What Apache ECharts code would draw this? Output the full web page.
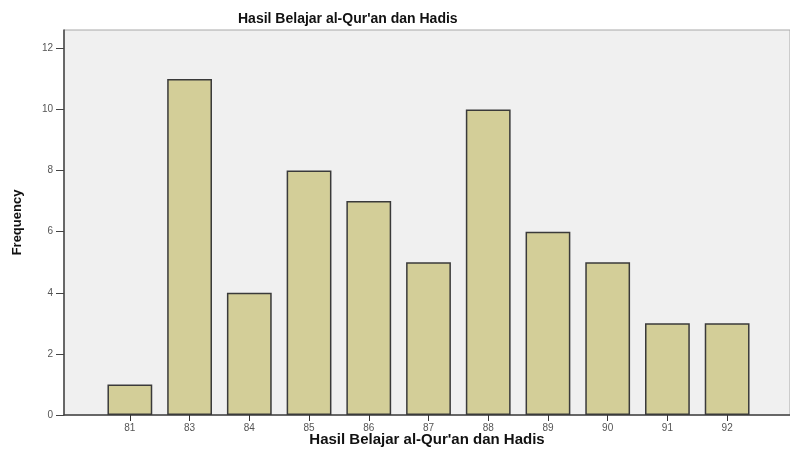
<!DOCTYPE html>
<html>
<head>
<meta charset="utf-8">
<script src="https://cdn.jsdelivr.net/npm/echarts@6/dist/echarts.min.js"></script>
<style>
  html, body { margin: 0; padding: 0; background: #fff; }
  #chart { width: 790px; height: 460px; }
</style>
</head>
<body>
<div id="chart"></div>
<script>
var categories = ['81', '83', '84', '85', '86', '87', '88', '89', '90', '91', '92'];
var frequency = [1, 11, 4, 8, 7, 5, 10, 6, 5, 3, 3];
var yTicks = [0, 2, 4, 6, 8, 10, 12];

var chart = echarts.init(document.getElementById('chart'));
var font = '"Liberation Sans", Arial, sans-serif';

var option = {
    animation: false,
    title: {
        text: "Hasil Belajar al-Qur'an dan Hadis",
        left: 233,
        top: 7,
        textStyle: { fontFamily: font, fontSize: 14, fontWeight: 'bold', color: '#111' }
    },
    grid: [
        // background frame + y axis
        { left: 64, right: 0, top: 30, bottom: 45, show: true,
          backgroundColor: '#f0f0f0', borderColor: '#a8a8a8', borderWidth: 1 },
        // bars
        { left: 100, right: 33, top: 30, bottom: 45 }
    ],
    xAxis: [
        {
            gridIndex: 0, type: 'value', min: 0, max: 1,
            name: "Hasil Belajar al-Qur'an dan Hadis",
            nameLocation: 'middle', nameGap: 17,
            nameTextStyle: { fontFamily: font, fontSize: 15, fontWeight: 'bold', color: '#111' },
            axisLine: { show: true, lineStyle: { color: '#444', width: 1.5 } },
            axisTick: { show: false }, axisLabel: { show: false }, splitLine: { show: false }
        },
        {
            gridIndex: 1, type: 'category', data: categories,
            axisLine: { show: false },
            axisTick: { show: true, alignWithLabel: true, length: 6, lineStyle: { color: '#333' } },
            axisLabel: { fontFamily: font, fontSize: 10, color: '#555', margin: 8 },
            splitLine: { show: false }
        }
    ],
    yAxis: [
        {
            gridIndex: 0, type: 'value', min: 0, max: 12.6,
            name: 'Frequency', nameLocation: 'middle', nameGap: 40,
            nameTextStyle: { fontFamily: font, fontSize: 13, fontWeight: 'bold', color: '#111' },
            axisLine: { show: true, lineStyle: { color: '#444', width: 1.5 } },
            axisTick: { show: true, length: 8, customValues: yTicks, lineStyle: { color: '#444' } },
            axisLabel: { fontFamily: font, fontSize: 10, color: '#555', margin: 11, customValues: yTicks },
            splitLine: { show: false }
        },
        {
            gridIndex: 1, type: 'value', min: 0, max: 12.6, show: false
        }
    ],
    series: [
        {
            type: 'bar',
            xAxisIndex: 1,
            yAxisIndex: 1,
            data: frequency,
            barCategoryGap: '25%',
            itemStyle: { color: '#d3ce98', borderColor: '#3a3a3a', borderWidth: 1.5 }
        }
    ]
};

chart.setOption(option);
</script>
</body>
</html>
